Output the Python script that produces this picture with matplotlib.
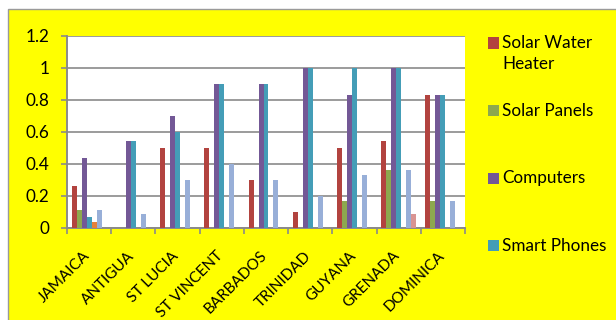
import numpy as np
import matplotlib
matplotlib.use("Agg")
import matplotlib.pyplot as plt
from matplotlib.patches import Rectangle

# Share of respondents per island owning each technology
categories = ["JAMAICA", "ANTIGUA", "ST LUCIA", "ST VINCENT", "BARBADOS",
              "TRINIDAD", "GUYANA", "GRENADA", "DOMINICA"]

solar_water_heater = [0.26, 0.0, 0.5, 0.5, 0.3, 0.1, 0.5, 0.545, 0.833]
solar_panels = [0.11, 0.0, 0.0, 0.0, 0.0, 0.0, 0.167, 0.364, 0.167]
computers = [0.44, 0.545, 0.7, 0.9, 0.9, 1.0, 0.833, 1.0, 0.833]
smart_phones = [0.07, 0.545, 0.6, 0.9, 0.9, 1.0, 1.0, 1.0, 0.833]
series_5 = [0.04, 0.0, 0.0, 0.0, 0.0, 0.0, 0.0, 0.0, 0.0]
series_6 = [0.11, 0.09, 0.3, 0.4, 0.3, 0.2, 0.333, 0.364, 0.167]
series_7 = [0.0, 0.0, 0.0, 0.0, 0.0, 0.0, 0.0, 0.09, 0.0]

series_names = ["Solar Water Heater", "Solar Panels", "Computers", "Smart Phones",
                "Series 5", "Series 6", "Series 7"]
legend_labels = ["Solar Water\nHeater", "Solar Panels", "Computers", "Smart Phones"]

y_ticks = [0, 0.2, 0.4, 0.6, 0.8, 1, 1.2]
y_tick_labels = ["0", "0.2", "0.4", "0.6", "0.8", "1", "1.2"]

series_values = [solar_water_heater, solar_panels, computers, smart_phones,
                 series_5, series_6, series_7]
colors = ["#B2433F", "#8DA84E", "#735896", "#449DB7", "#E6803A", "#98AFD8", "#D99492"]

plt.rcParams["font.family"] = ["Lato", "DejaVu Sans"]
FS = 12.3
FS_X = 11.0

W, H = 616, 320
fig = plt.figure(figsize=(W / 100, H / 100), dpi=100)
fig.patch.set_facecolor("white")

# Yellow chart area with a thin grey frame
fig.patches.append(Rectangle((8 / W, -0.1), 1.2, 1 - 9 / H + 0.1,
                             transform=fig.transFigure, facecolor="#FFFF00",
                             edgecolor="#9A9A9A", linewidth=1.0, zorder=-10))

ax = fig.add_axes([67 / W, 1 - 228 / H, (465 - 67) / W, (228 - 36) / H])
ax.set_facecolor("white")

n = len(series_values)
bar_w = 0.113
x = np.arange(len(categories))
for j, (vals, col) in enumerate(zip(series_values, colors)):
    ax.bar(x + (j - (n - 1) / 2) * bar_w, vals, width=bar_w, color=col,
           label=series_names[j], linewidth=0, zorder=3)

ax.set_xlim(-0.5, len(categories) - 0.5)
ax.set_ylim(0, 1.2)

grid_col = "#8A8A8A"
ax.set_yticks(y_ticks)
ax.set_yticklabels(y_tick_labels, fontsize=FS)
ax.yaxis.grid(True, color=grid_col, linewidth=1.2, zorder=1)
ax.set_axisbelow(True)

# Category boundaries get tick marks; names are placed as rotated text
ax.set_xticks([])
ax.set_xticks(np.arange(-0.5, len(categories)), minor=True)
ax.tick_params(axis="x", which="minor", length=4, width=1.2, color=grid_col,
               direction="out")
ax.tick_params(axis="y", length=4.5, width=1.2, color=grid_col, pad=8)

px = 0.72  # points per pixel at 100 dpi
for xi, name in zip(x, categories):
    ax.annotate(name, (xi, 0), xycoords=("data", "axes fraction"),
                xytext=(2 * px, -28.5 * px), textcoords="offset points",
                rotation=45, ha="right", va="baseline", rotation_mode="anchor",
                fontsize=FS_X, annotation_clip=False)

for s in ["top", "right"]:
    ax.spines[s].set_visible(False)
for s in ["left", "bottom"]:
    ax.spines[s].set_color(grid_col)
    ax.spines[s].set_linewidth(1.4)

# Legend column on the right, one entry per named series
legend_y = [43, 110.7, 178, 245.7]
for lbl, col, ypx in zip(legend_labels, colors, legend_y):
    fig.patches.append(Rectangle((488 / W, 1 - (ypx + 5.5) / H), 11 / W, 11 / H,
                                 transform=fig.transFigure, facecolor=col,
                                 edgecolor="none", zorder=2))
    fig.text(502 / W, 1 - (ypx - 8) / H, lbl, fontsize=FS, va="top", ha="left",
             linespacing=1.35)

fig.savefig("out.png", dpi=100, facecolor=fig.get_facecolor())
